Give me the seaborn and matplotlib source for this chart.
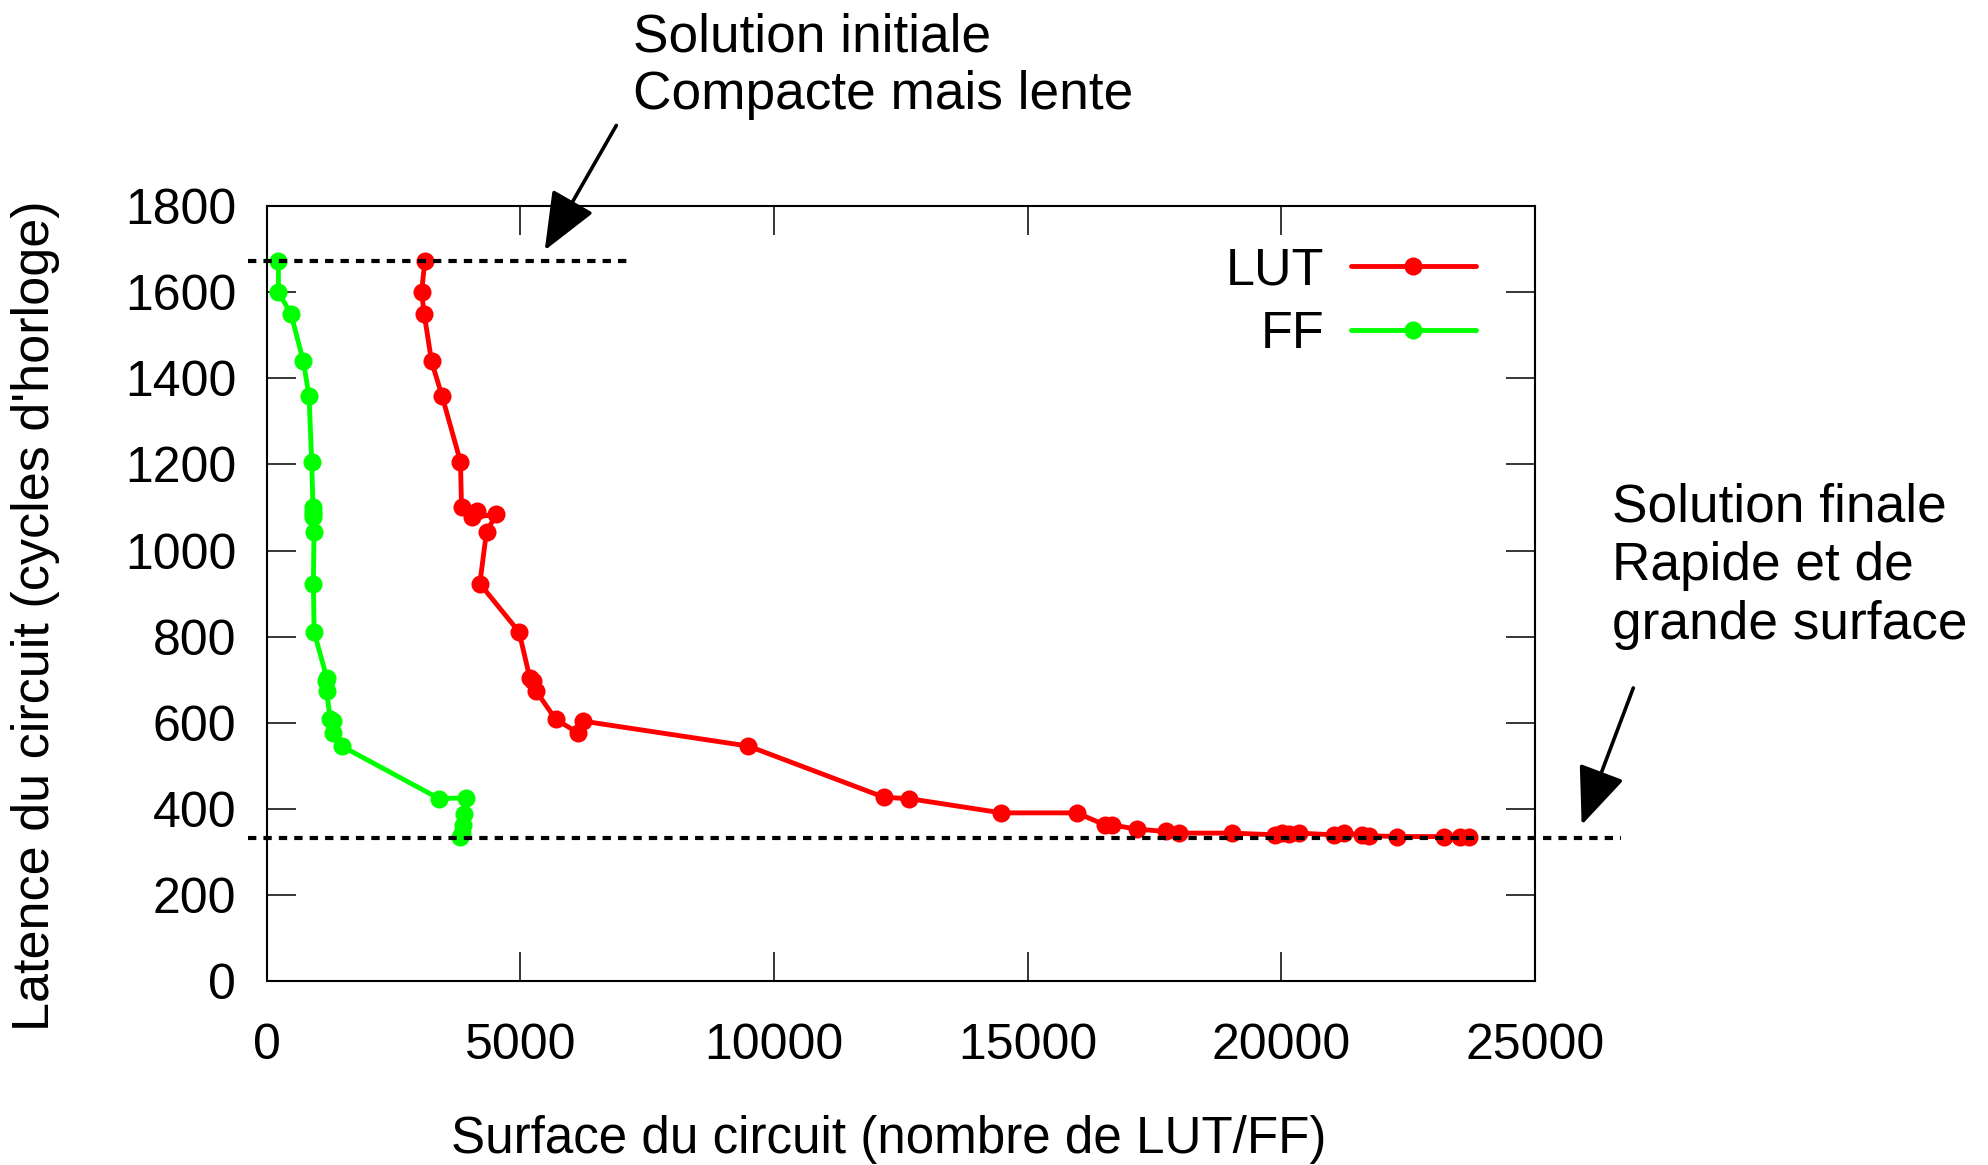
import matplotlib
matplotlib.use('Agg')
import matplotlib.pyplot as plt
import seaborn as sns

# Données : surface (LUT / FF) et latence (cycles)
lut_surface = [3116, 3051, 3103, 3248, 3457, 3818, 3838, 4153, 4035, 4527, 4331, 4199,
               4973, 5183, 5240, 5301, 5695, 6134, 6233, 9494, 12171, 12663, 14481, 15964,
               16521, 16665, 17158, 17716, 17978, 19027, 19882, 20013, 20144, 20341,
               21030, 21227, 21587, 21719, 22276, 23195, 23523, 23687]
lut_latence = [1673, 1600, 1549, 1439, 1358, 1206, 1100, 1092, 1077, 1084, 1044, 923,
               811, 705, 697, 675, 608, 577, 604, 546, 427, 424, 391, 391,
               363, 363, 353, 348, 344, 344, 340, 344, 342, 344,
               340, 344, 340, 338, 336, 336, 336, 336]

ff_surface = [229, 229, 478, 721, 833, 886, 910, 915, 910, 915, 931, 918,
              933, 1181, 1170, 1181, 1247, 1299, 1312, 1476, 3398, 3917, 3884, 3860, 3840, 3818]
ff_latence = [1673, 1600, 1549, 1439, 1358, 1206, 1100, 1092, 1077, 1084, 1044, 923,
              811, 705, 697, 675, 609, 577, 604, 546, 424, 426, 389, 363, 344, 335]

# lignes de référence (latence initiale / finale)
latence_initiale = 1673
latence_finale = 332
etendue_initiale = [-380, 7180]
etendue_finale = [-380, 26700]

sns.set_style('ticks')
plt.rcParams['font.family'] = ['Liberation Sans', 'DejaVu Sans']
plt.rcParams['font.size'] = 36
plt.rcParams['text.color'] = 'black'
plt.rcParams['axes.labelcolor'] = 'black'
plt.rcParams['xtick.color'] = 'black'
plt.rcParams['ytick.color'] = 'black'

fig = plt.figure(figsize=(19.88, 11.65), dpi=100)
ax = fig.add_axes([0.1342, 0.1577, 0.638, 0.6655])

sns.lineplot(x=lut_surface, y=lut_latence, sort=False, estimator=None, color='#ff0000',
             marker='o', markersize=13, markeredgewidth=0, linewidth=3.5, label='LUT', ax=ax)
sns.lineplot(x=ff_surface, y=ff_latence, sort=False, estimator=None, color='#00ff00',
             marker='o', markersize=13, markeredgewidth=0, linewidth=3.5, label='FF', ax=ax)

# lignes pointillées
ax.plot(etendue_initiale, [latence_initiale] * 2, color='black', linewidth=3,
        dashes=(2, 1.7), clip_on=False, zorder=5)
ax.plot(etendue_finale, [latence_finale] * 2, color='black', linewidth=3,
        dashes=(2, 1.7), clip_on=False, zorder=5)

ax.set_xlim(0, 25000)
ax.set_ylim(0, 1800)
ax.set_xticks(range(0, 25001, 5000))
ax.set_yticks(range(0, 1801, 200))
ax.tick_params(direction='in', length=21, width=1.1, top=True, right=True, labelsize=36)
ax.tick_params(axis='x', pad=30)
ax.tick_params(axis='y', pad=22)
for spine in ax.spines.values():
    spine.set_visible(True)
    spine.set_color('black')
    spine.set_linewidth(1.5)

ax.set_xlabel('Surface du circuit (nombre de LUT/FF)', fontsize=36.8)
ax.set_ylabel("Latence du circuit (cycles d'horloge)", fontsize=37.5)
ax.xaxis.set_label_coords(0.49, -0.172)
ax.yaxis.set_label_coords(-0.163, 0.472)

leg = ax.legend(loc='upper right', bbox_to_anchor=(0.953, 0.948), frameon=False,
                markerfirst=False, fontsize=37.5, handlelength=2.4, handletextpad=0.5,
                labelspacing=0.28, borderpad=0, borderaxespad=0)

# flèches d'annotation
fleche = dict(arrowstyle='-|>,head_length=0.8,head_width=0.33', color='black',
              lw=2.6, mutation_scale=45, shrinkA=0, shrinkB=0)
ax.annotate('', xy=(5478, 1697), xytext=(6890, 1987), arrowprops=fleche,
            annotation_clip=False)
ax.annotate('', xy=(25917, 363), xytext=(26935, 681), arrowprops=fleche,
            annotation_clip=False)

# textes d'annotation
H = 1165
for i, ligne in enumerate(['Solution initiale', 'Compacte mais lente']):
    fig.text(0.3183, 1 - (51 + 58 * i) / H, ligne, fontsize=38.3, va='baseline', ha='left')
for i, ligne in enumerate(['Solution finale', 'Rapide et de', 'grande surface']):
    fig.text(0.8107, 1 - (521 + 59 * i) / H, ligne, fontsize=38.3, va='baseline', ha='left')

plt.savefig('out.png', dpi=100)
